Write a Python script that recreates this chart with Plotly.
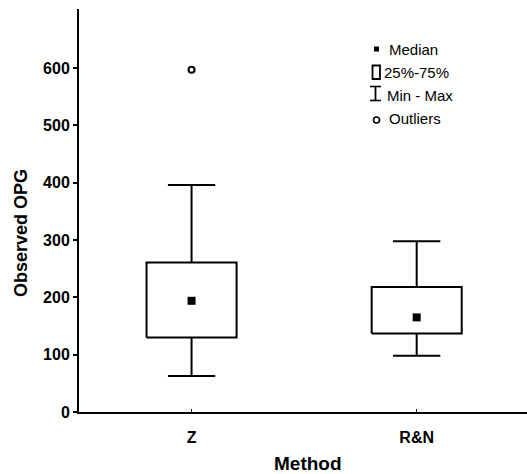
import plotly.graph_objects as go

# ---- data ----
methods = ["Z", "R&N"]
q1 = [130, 137]
q3 = [261, 218]
median = [194, 165]
wmin = [63, 98]
wmax = [396, 298]
outlier_method = [0]
outlier_value = [597]
ytick_vals = [0, 100, 200, 300, 400, 500, 600]

W, H = 527, 474
# page-pixel plot area: left 79, right 527, top 9, bottom 412
ML, MR, MT, MB = 79, 0, 9, 474 - 412
PW, PH = W - ML - MR, H - MT - MB

def px_x(px):
    return (px - ML) / PW

def px_y(py):
    return (H - MB - py) / PH

BOX_HALF = 0.2
CAP_HALF = 0.105
FONT = "Liberation Sans, Arial, sans-serif"

fig = go.Figure()

for i in range(len(methods)):
    fig.add_trace(go.Scatter(
        x=[i - BOX_HALF, i + BOX_HALF, i + BOX_HALF, i - BOX_HALF, i - BOX_HALF],
        y=[q1[i], q1[i], q3[i], q3[i], q1[i]],
        mode="lines", line=dict(color="black", width=2),
        fill="toself", fillcolor="white", hoverinfo="skip", showlegend=False))
    fig.add_trace(go.Scatter(
        x=[i, i, None, i, i, None, i - CAP_HALF, i + CAP_HALF, None, i - CAP_HALF, i + CAP_HALF],
        y=[q3[i], wmax[i], None, q1[i], wmin[i], None, wmax[i], wmax[i], None, wmin[i], wmin[i]],
        mode="lines", line=dict(color="black", width=2),
        hoverinfo="skip", showlegend=False))

fig.add_trace(go.Scatter(
    x=list(range(len(methods))), y=median, mode="markers",
    marker=dict(symbol="square", size=8, color="black"),
    showlegend=False))

fig.add_trace(go.Scatter(
    x=outlier_method, y=outlier_value, mode="markers",
    marker=dict(symbol="circle-open", size=6, color="black", line=dict(width=2)),
    showlegend=False))

# ---- legend (drawn manually) ----
shapes = []
shapes.append(dict(type="rect", xref="paper", yref="paper",
                   x0=px_x(374), x1=px_x(379), y0=px_y(51.5), y1=px_y(46.5),
                   fillcolor="black", line=dict(width=0)))
shapes.append(dict(type="rect", xref="paper", yref="paper",
                   x0=px_x(372.5), x1=px_x(380), y0=px_y(79), y1=px_y(65.5),
                   fillcolor="white", line=dict(color="black", width=1.8)))
shapes.append(dict(type="line", xref="paper", yref="paper",
                   x0=px_x(375.5), x1=px_x(375.5), y0=px_y(100.5), y1=px_y(86.5),
                   line=dict(color="black", width=1.8)))
for yy in (86.5, 100.5):
    shapes.append(dict(type="line", xref="paper", yref="paper",
                       x0=px_x(370), x1=px_x(381), y0=px_y(yy), y1=px_y(yy),
                       line=dict(color="black", width=1.6)))
shapes.append(dict(type="circle", xref="paper", yref="paper",
                   x0=px_x(373.5), x1=px_x(379.5), y0=px_y(123), y1=px_y(117),
                   line=dict(color="black", width=1.6)))

legend_items = [("Median", 386.5, 49), ("25%-75%", 382, 72.5), ("Min - Max", 384.5, 95), ("Outliers", 386.5, 118.5)]
annotations = []
for txt, x0, yc in legend_items:
    annotations.append(dict(text=txt, xref="paper", yref="paper",
                            x=px_x(x0), y=px_y(yc), xanchor="left", yanchor="middle",
                            showarrow=False, font=dict(family=FONT, size=15, color="black")))

annotations.append(dict(text="<b>Observed OPG</b>", xref="paper", yref="paper",
                        x=px_x(21), y=px_y(233), xanchor="center", yanchor="middle",
                        textangle=-90, showarrow=False,
                        font=dict(family=FONT, size=18, color="black")))
annotations.append(dict(text="<b>Method</b>", xref="paper", yref="paper",
                        x=px_x(308), y=px_y(464), xanchor="center", yanchor="middle",
                        showarrow=False,
                        font=dict(family=FONT, size=19, color="black")))

fig.update_layout(
    width=W, height=H,
    margin=dict(l=ML, r=MR, t=MT, b=MB, pad=0),
    paper_bgcolor="white", plot_bgcolor="white",
    showlegend=False,
    shapes=shapes, annotations=annotations,
    xaxis=dict(range=[-0.5, 1.49], tickvals=list(range(len(methods))), ticktext=[f"<b>{m}</b>" for m in methods],
               showgrid=False, zeroline=False, showline=True, linecolor="black", linewidth=2,
               ticks="inside", ticklen=3, tickwidth=1, tickcolor="black",
               ticklabelstandoff=10,
               tickfont=dict(family=FONT, size=16, color="black")),
    yaxis=dict(range=[0, 703], tickvals=ytick_vals, ticktext=[f"<b>{v}</b>" for v in ytick_vals],
               showgrid=False, zeroline=False, showline=True, linecolor="black", linewidth=2,
               ticks="outside", ticklen=4, tickwidth=1.5, tickcolor="black",
               tickfont=dict(family=FONT, size=16, color="black")),
)

fig.write_html("out.html",
               config={"displayModeBar": False},
               post_script="document.body.style.margin='0';document.body.style.overflow='hidden';")
